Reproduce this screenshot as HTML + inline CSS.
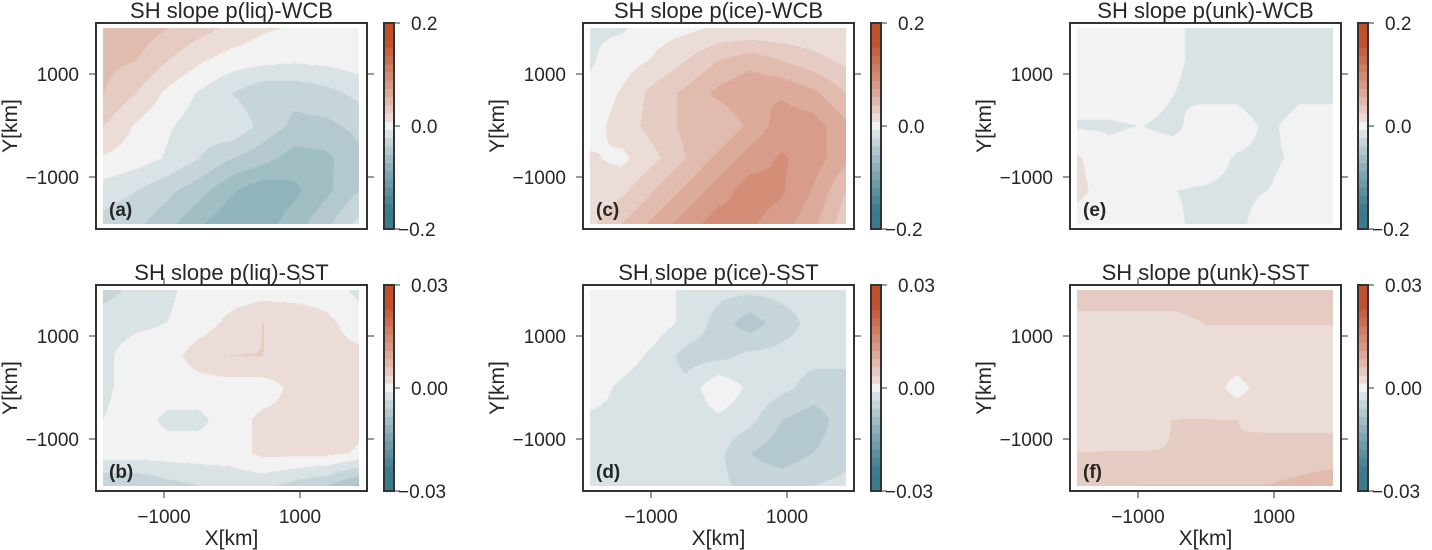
<!DOCTYPE html>
<html><head><meta charset="utf-8">
<style>
html,body{margin:0;padding:0;background:#fff;}
#wrap{position:relative;width:1432px;height:550px;overflow:hidden;font-family:"Liberation Sans",sans-serif;}
canvas{position:absolute;}
svg{position:absolute;left:0;top:0;}
</style></head>
<body>
<div id="wrap">
<svg id="svg" width="1432" height="550"></svg>
</div>
<script>
// Field values (normalized to colorbar max), rows top->bottom, cols left->right
const fieldA=[[.25,.25,.2,.15,.1,.05,.03,.03,.01],[.22,.2,.12,.05,0,-.02,-.03,-.02,0],[.2,.12,.02,-.05,-.12,-.18,-.18,-.15,-.1],[.12,.03,-.03,-.08,-.05,-.15,-.22,-.22,-.18],[.03,0,-.05,-.12,-.2,-.25,-.32,-.3,-.22],[-.08,-.12,-.18,-.25,-.35,-.42,-.38,-.3,-.2],[-.15,-.18,-.25,-.35,-.42,-.4,-.32,-.22,-.1]];
const fieldC=[[-.05,-.05,0,.02,.05,.05,.05,.05,.05],[-.05,0,.05,.12,.2,.25,.2,.15,.1],[-.02,.05,.15,.22,.3,.35,.35,.3,.2],[0,.08,.15,.22,.2,.3,.4,.4,.3],[.05,.02,.1,.2,.3,.4,.45,.4,.3],[.05,.1,.2,.3,.4,.48,.45,.35,.2],[.1,.2,.3,.4,.48,.45,.4,.3,.15]];
const fieldE=[[0,0,-.02,-.03,-.06,-.12,-.12,-.12,-.12],[0,0,-.02,-.03,-.06,-.12,-.12,-.12,-.12],[0,0,0,-.04,-.06,-.06,-.1,-.06,-.06],[-.05,-.05,-.04,-.06,0,0,-.06,0,0],[.05,-.02,0,0,0,-.05,-.06,-.02,0],[.06,0,-.04,-.04,-.05,-.06,-.04,0,0],[0,0,0,-.03,-.06,-.06,0,0,0]];
const fieldB=[[-.15,-.1,-.06,0,0,0,0,0,-.06],[-.08,-.06,-.04,0,.06,.12,.1,.06,0],[-.06,0,0,.08,.12,.12,.06,.06,.06],[-.06,0,0,0,0,0,.06,.06,.06],[-.04,0,-.06,-.06,0,.06,.06,.1,.06],[0,0,0,0,0,.06,.06,.06,.03],[-.2,-.2,-.15,-.12,-.1,-.1,-.15,-.2,-.3]];
const fieldD=[[0,0,0,-.06,-.1,-.1,-.1,-.1,-.1],[0,0,0,-.06,-.15,-.25,-.15,-.1,-.1],[0,0,-.06,-.15,-.15,-.1,-.1,-.1,-.1],[0,-.06,-.1,-.1,.03,-.06,-.1,-.15,-.15],[-.06,-.06,-.06,-.1,-.06,-.1,-.2,-.25,-.15],[-.06,-.06,-.06,-.06,-.1,-.2,-.25,-.2,-.15],[-.06,-.06,-.06,-.06,-.1,-.15,-.15,-.12,-.1]];
const fieldF=[[.15,.15,.15,.15,.15,.15,.15,.18,.2],[.1,.1,.1,.1,.12,.12,.12,.12,.12],[.06,.08,.1,.1,.1,.1,.1,.1,.1],[.06,.06,.06,.08,.1,0,.1,.1,.1],[.08,.1,.1,.12,.12,.12,.1,.1,.1],[.12,.12,.12,.12,.12,.12,.15,.15,.15],[.18,.18,.2,.2,.2,.2,.2,.22,.25]];
const titles=["SH slope p(liq)-WCB","SH slope p(liq)-SST","SH slope p(ice)-WCB","SH slope p(ice)-SST","SH slope p(unk)-WCB","SH slope p(unk)-SST"];
const panelLetters=["(a)","(b)","(c)","(d)","(e)","(f)"];
const cbTicksTop=["0.2","0.0","\u22120.2"];
const cbTicksBottom=["0.03","0.00","\u22120.03"];
const xTickLabels=["\u22121000","1000"];
const yTickLabels=["1000","\u22121000"];
const fields=[fieldA,fieldB,fieldC,fieldD,fieldE,fieldF];

const NEG=[59,122,140],MID=[242,242,242],POS=[193,80,44];
function cmap(v){v=Math.max(-1,Math.min(1,v));const a=v<0?NEG:POS,t=Math.min(1,Math.pow(Math.abs(v),0.85)*1.15);
return [0,1,2].map(i=>Math.round(MID[i]+(a[i]-MID[i])*t));}
const STEP=0.08;
function quant(v){return Math.round(v/STEP+0.0137)*STEP;}
function sample(f,u,w){const R=f.length-1,C=f[0].length-1;const y=w*R,x=u*C;
const i=Math.min(R-1,Math.floor(y)),j=Math.min(C-1,Math.floor(x));const fy=y-i,fx=x-j;
return f[i][j]*(1-fx)*(1-fy)+f[i][j+1]*fx*(1-fy)+f[i+1][j]*(1-fx)*fy+f[i+1][j+1]*fx*fy;}

const svg=document.getElementById('svg'),wrap=document.getElementById('wrap');
const NS="http://www.w3.org/2000/svg";
function mk(tag,attrs,txt){const e=document.createElementNS(NS,tag);for(const k in attrs)e.setAttribute(k,attrs[k]);if(txt!==undefined)e.textContent=txt;svg.appendChild(e);return e;}
const colX=[0,487,974],rowY=[0,262];
for(let c=0;c<3;c++)for(let r=0;r<2;r++){
 const k=c*2+r,ox=colX[c],oy=rowY[r];
 const bx=96+ox,by=23+oy,bw=271,bh=206;
 const dx=103+ox,dy=28+oy,dw=256,dh=196;
 const xs=v=>bx+68+(v+1000)*(136/2000);
 const ys=v=>by+51+(1000-v)*(103/2000);
 const cv=document.createElement('canvas');cv.width=dw;cv.height=dh;cv.style.left=dx+'px';cv.style.top=dy+'px';
 
 
 wrap.insertBefore(cv,svg);
 const ctx=cv.getContext('2d'),img=ctx.createImageData(dw,dh);
 for(let y=0;y<dh;y++)for(let x=0;x<dw;x++){const v=quant(sample(fields[k],x/(dw-1),y/(dh-1)));const col=cmap(v);const p=(y*dw+x)*4;img.data[p]=col[0];img.data[p+1]=col[1];img.data[p+2]=col[2];img.data[p+3]=255;}
 ctx.putImageData(img,0,0);
 const box=mk('rect',{x:bx,y:by,width:bw,height:bh,fill:'none',stroke:'#333',"stroke-width":2});
 
 const t=mk('text',{x:bx+bw/2,y:by-5,"text-anchor":"middle","font-size":22,fill:'#262626'},titles[k]);
 
 const l=mk('text',{x:bx+13,y:by+193,"font-size":19,"font-weight":"bold",fill:'#262626'},panelLetters[k]);
 
 [1000,-1000].forEach((v,i)=>{const y=ys(v);
  mk('line',{x1:bx-7,x2:bx,y1:y,y2:y,stroke:'#333',"stroke-width":1});
  mk('line',{x1:bx+bw,x2:bx+bw+7,y1:y,y2:y,stroke:'#333',"stroke-width":1});
  const tl=mk('text',{x:bx-17,y:y+7,"text-anchor":"end","font-size":19,fill:'#262626'},yTickLabels[i]);
  });
 const yl=mk('text',{x:0,y:0,transform:`translate(${bx-79},${by+bh/2}) rotate(-90)`,"text-anchor":"middle","font-size":21,fill:'#262626'},"Y[km]");
 
 if(r===1){[-1000,1000].forEach((v,i)=>{const x=xs(v);
  mk('line',{x1:x,x2:x,y1:by+bh,y2:by+bh+7,stroke:'#333',"stroke-width":1});
  mk('line',{x1:x,x2:x,y1:by-7,y2:by,stroke:'#333',"stroke-width":1});
  const tl=mk('text',{x:x,y:by+bh+32,"text-anchor":"middle","font-size":19,fill:'#262626'},xTickLabels[i]);
  });
  const xl=mk('text',{x:bx+bw/2,y:by+bh+54,"text-anchor":"middle","font-size":21,fill:'#262626'},"X[km]");
  }
 const cx=384+ox,cw=10,n=25,h=bh/n;
 for(let i=0;i<n;i++){const v=1-i*(2/(n-1));const col=cmap(v);
  const rc=mk('rect',{x:cx,y:by+i*h,width:cw,height:h+0.5,fill:`rgb(${col})`});
  }
 const cf=mk('rect',{x:cx,y:by,width:cw,height:bh,fill:'none',stroke:'#333',"stroke-width":2});
 
 const labs=r===0?cbTicksTop:cbTicksBottom;
 labs.forEach((s,i)=>{const y=by+i*bh/2;
  mk('line',{x1:cx+cw,x2:cx+cw+6,y1:y,y2:y,stroke:'#333',"stroke-width":1});
  const tl=mk('text',{x:cx+cw+(s[0]==='\u2212'?4:17),y:y+7,"font-size":19,fill:'#262626'},s);
  });
}
</script>
</body></html>
